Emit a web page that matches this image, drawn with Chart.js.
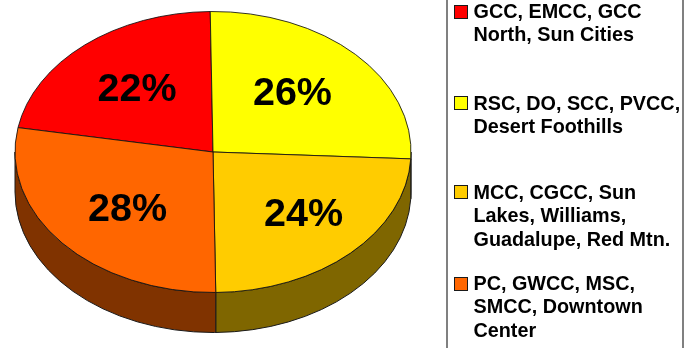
<!DOCTYPE html>
<html>
<head>
<meta charset="utf-8">
<style>
  html, body { margin: 0; padding: 0; background: #fff; overflow: hidden; }
  canvas { display: block; }
</style>
<script src="https://cdn.jsdelivr.net/npm/chart.js@4/dist/chart.umd.min.js"></script>
</head>
<body>
<canvas id="pie" width="692" height="348"></canvas>
<script>
// Campus groups, in clockwise order starting from the red slice
const groupNames = [
  ['GCC, EMCC, GCC', 'North, Sun Cities'],
  ['RSC, DO, SCC, PVCC,', 'Desert Foothills'],
  ['MCC, CGCC, Sun', 'Lakes, Williams,', 'Guadalupe, Red Mtn.'],
  ['PC, GWCC, MSC,', 'SMCC, Downtown', 'Center']
];
const shares = [22, 26, 24, 28];
const faceColors = ['#FF0000', '#FFFF00', '#FFCC00', '#FF6600'];
const wallColors = ['#800000', '#808000', '#7F6600', '#803300'];

// Geometry of the tilted disc
const radiusX = 198;
const radiusY = 140.5;
const wallDepth = 40;
const startRotation = -80; // the red slice opens on the left side of the disc

// Label placement: distance along the slice's middle, plus a small per-label shift
const labelReach = 0.6;
const labelShiftX = [1, -6, 8, 5];
const labelShiftY = [2, 1, 2, 3];

// Legend layout
const legendTop = [5, 96, 185, 277];
const legendBaseline = [18, 110, 199, 290];
const legendLineGap = 23.3;

const tilt = radiusY / radiusX;

function discArcs(chart) {
  return chart.getDatasetMeta(0).data;
}

const tiltedDisc = {
  id: 'tiltedDisc',
  beforeDatasetsDraw(chart) {
    const ctx = chart.ctx;
    // Side wall: only the part of each slice that faces the viewer
    discArcs(chart).forEach((arc, i) => {
      const p = arc.getProps(['x', 'y', 'startAngle', 'endAngle', 'outerRadius'], true);
      for (const turn of [0, 2 * Math.PI, -2 * Math.PI]) {
        const a0 = Math.max(p.startAngle + turn, 0);
        const a1 = Math.min(p.endAngle + turn, Math.PI);
        if (a1 <= a0) continue;
        ctx.save();
        ctx.beginPath();
        ctx.ellipse(p.x, p.y, p.outerRadius, p.outerRadius * tilt, 0, a0, a1);
        ctx.ellipse(p.x, p.y + wallDepth, p.outerRadius, p.outerRadius * tilt, 0, a1, a0, true);
        ctx.closePath();
        ctx.fillStyle = wallColors[i];
        ctx.strokeStyle = '#1a1a1a';
        ctx.lineWidth = 1;
        ctx.fill();
        ctx.stroke();
        ctx.restore();
      }
    });
  },
  beforeDatasetDraw(chart) {
    const ctx = chart.ctx;
    const first = discArcs(chart)[0];
    ctx.save();
    ctx.translate(first.x, first.y);
    ctx.scale(1, tilt);
    ctx.translate(-first.x, -first.y);
  },
  afterDatasetDraw(chart) {
    chart.ctx.restore();
  },
  afterDraw(chart) {
    const ctx = chart.ctx;
    // Percentages on the slices
    ctx.save();
    ctx.fillStyle = '#000';
    ctx.font = 'bold 39.5px "Liberation Sans", Arial, sans-serif';
    ctx.textAlign = 'center';
    ctx.textBaseline = 'middle';
    discArcs(chart).forEach((arc, i) => {
      const p = arc.getProps(['x', 'y', 'startAngle', 'endAngle', 'outerRadius'], true);
      const mid = (p.startAngle + p.endAngle) / 2;
      const x = p.x + Math.cos(mid) * p.outerRadius * labelReach + labelShiftX[i];
      const y = p.y + Math.sin(mid) * p.outerRadius * tilt * labelReach + labelShiftY[i];
      ctx.fillText(shares[i] + '%', x, y);
    });
    ctx.restore();

    // Legend panel
    ctx.save();
    ctx.strokeStyle = '#808080';
    ctx.lineWidth = 2;
    ctx.strokeRect(447, -4, 236, 360);
    ctx.font = 'bold 19.8px "Liberation Sans", Arial, sans-serif';
    ctx.textBaseline = 'alphabetic';
    ctx.textAlign = 'left';
    groupNames.forEach((lines, i) => {
      ctx.fillStyle = faceColors[i];
      ctx.strokeStyle = '#1a1a1a';
      ctx.lineWidth = 1;
      ctx.fillRect(454.5, legendTop[i] + 0.5, 13, 13);
      ctx.strokeRect(454.5, legendTop[i] + 0.5, 13, 13);
      ctx.fillStyle = '#000';
      lines.forEach((line, k) => {
        ctx.fillText(line, 473.5, legendBaseline[i] + k * legendLineGap);
      });
    });
    ctx.restore();
  }
};

new Chart(document.getElementById('pie'), {
  type: 'pie',
  data: {
    labels: groupNames.map(lines => lines.join(' ')),
    datasets: [{
      data: shares,
      backgroundColor: faceColors,
      borderColor: '#111',
      borderWidth: 1,
      borderAlign: 'center',
      clip: false
    }]
  },
  options: {
    responsive: false,
    animation: false,
    rotation: startRotation,
    radius: radiusX,
    layout: { padding: { left: 0, top: 0, right: 692 - 426, bottom: 348 - 304 } },
    plugins: {
      legend: { display: false },
      tooltip: { enabled: false },
      title: { display: false }
    }
  },
  plugins: [tiltedDisc]
});
</script>
</body>
</html>
